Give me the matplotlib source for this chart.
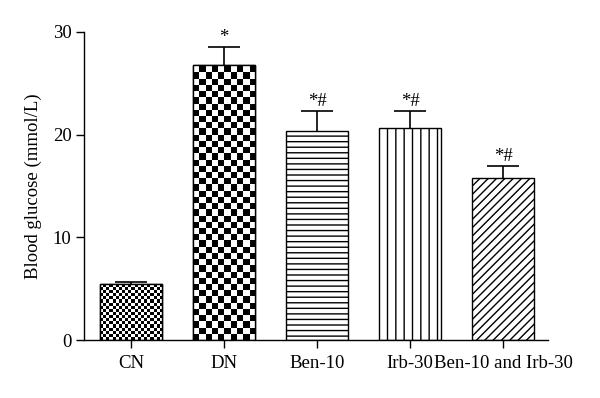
import numpy as np
import matplotlib
matplotlib.use("Agg")
import matplotlib.pyplot as plt

categories = ["CN", "DN", "Ben-10", "Irb-30", "Ben-10 and Irb-30"]
means = [5.42, 26.8, 20.38, 20.64, 15.8]
errors = [0.26, 1.76, 1.95, 1.69, 1.1]
marks = ["", "*", "*#", "*#", "*#"]
y_ticks = [0, 10, 20, 30]

plt.rcParams['font.family'] = ['Liberation Serif', 'DejaVu Serif']
plt.rcParams['hatch.linewidth'] = 1.0

fig = plt.figure(figsize=(6.0, 3.98), dpi=100)
ax = fig.add_axes([0.14, 0.1457, 0.773, 0.7743])

x = np.arange(len(categories))
hatches = [None, None, '---', '||', '////']
bars = ax.bar(x, means, width=0.667, color='white', edgecolor='black',
              linewidth=1.0, zorder=2)
for b, h in zip(bars, hatches):
    if h:
        b.set_hatch(h)

eb = ax.errorbar(x, means, yerr=[np.zeros(len(means)), errors], fmt='none',
                 ecolor='black', elinewidth=1.2, capsize=11.5, capthick=1.2,
                 zorder=1)
caps = eb[1]
if len(caps) == 2:
    caps[0].set_visible(False)

ax.set_xlim(-0.505, 4.48)
ax.set_ylim(0, 30)
ax.set_yticks(y_ticks)
ax.set_xticks(x)
ax.set_xticklabels(categories)
ax.tick_params(axis='both', labelsize=13.5, direction='out', length=6, width=1.0)
ax.tick_params(axis='x', pad=5)
ax.tick_params(axis='y', pad=3)
for s in ['top', 'right']:
    ax.spines[s].set_visible(False)
for s in ['left', 'bottom']:
    ax.spines[s].set_linewidth(1.0)
ax.set_ylabel("Blood glucose (mmol/L)", fontsize=13.5, labelpad=8)

# checkerboard fills for first two bars, clipped to bar shape
fig.canvas.draw()
cells_across = [20, 10]
for i, n in enumerate(cells_across):
    b = bars[i]
    x0, w, h = b.get_x(), b.get_width(), b.get_height()
    p0 = ax.transData.transform((x0, 0))
    p1 = ax.transData.transform((x0 + w, h))
    wpx = p1[0] - p0[0]
    hpx = p1[1] - p0[1]
    cell = wpx / n
    ny = int(np.ceil(hpx / cell))
    yy, xx = np.indices((ny, n))
    board = ((xx + yy) % 2).astype(float)
    top_data = ax.transData.inverted().transform((p0[0], p0[1] + ny * cell))[1]
    im = ax.imshow(board, cmap='gray', vmin=0, vmax=1, origin='lower',
                   extent=(x0, x0 + w, 0, top_data), interpolation='nearest',
                   aspect='auto', zorder=2.5)
    im.set_clip_path(b)
    ax.bar([x[i]], [h], width=w, color='none', edgecolor='black',
           linewidth=1.0, zorder=3)

ax.set_xlim(-0.505, 4.48)
ax.set_ylim(0, 30)

for xi, m, e, mk in zip(x, means, errors, marks):
    if mk:
        ax.text(xi, m + e + 0.1, mk, ha='center', va='bottom', fontsize=13.5)

fig.savefig("out.png", dpi=100)
